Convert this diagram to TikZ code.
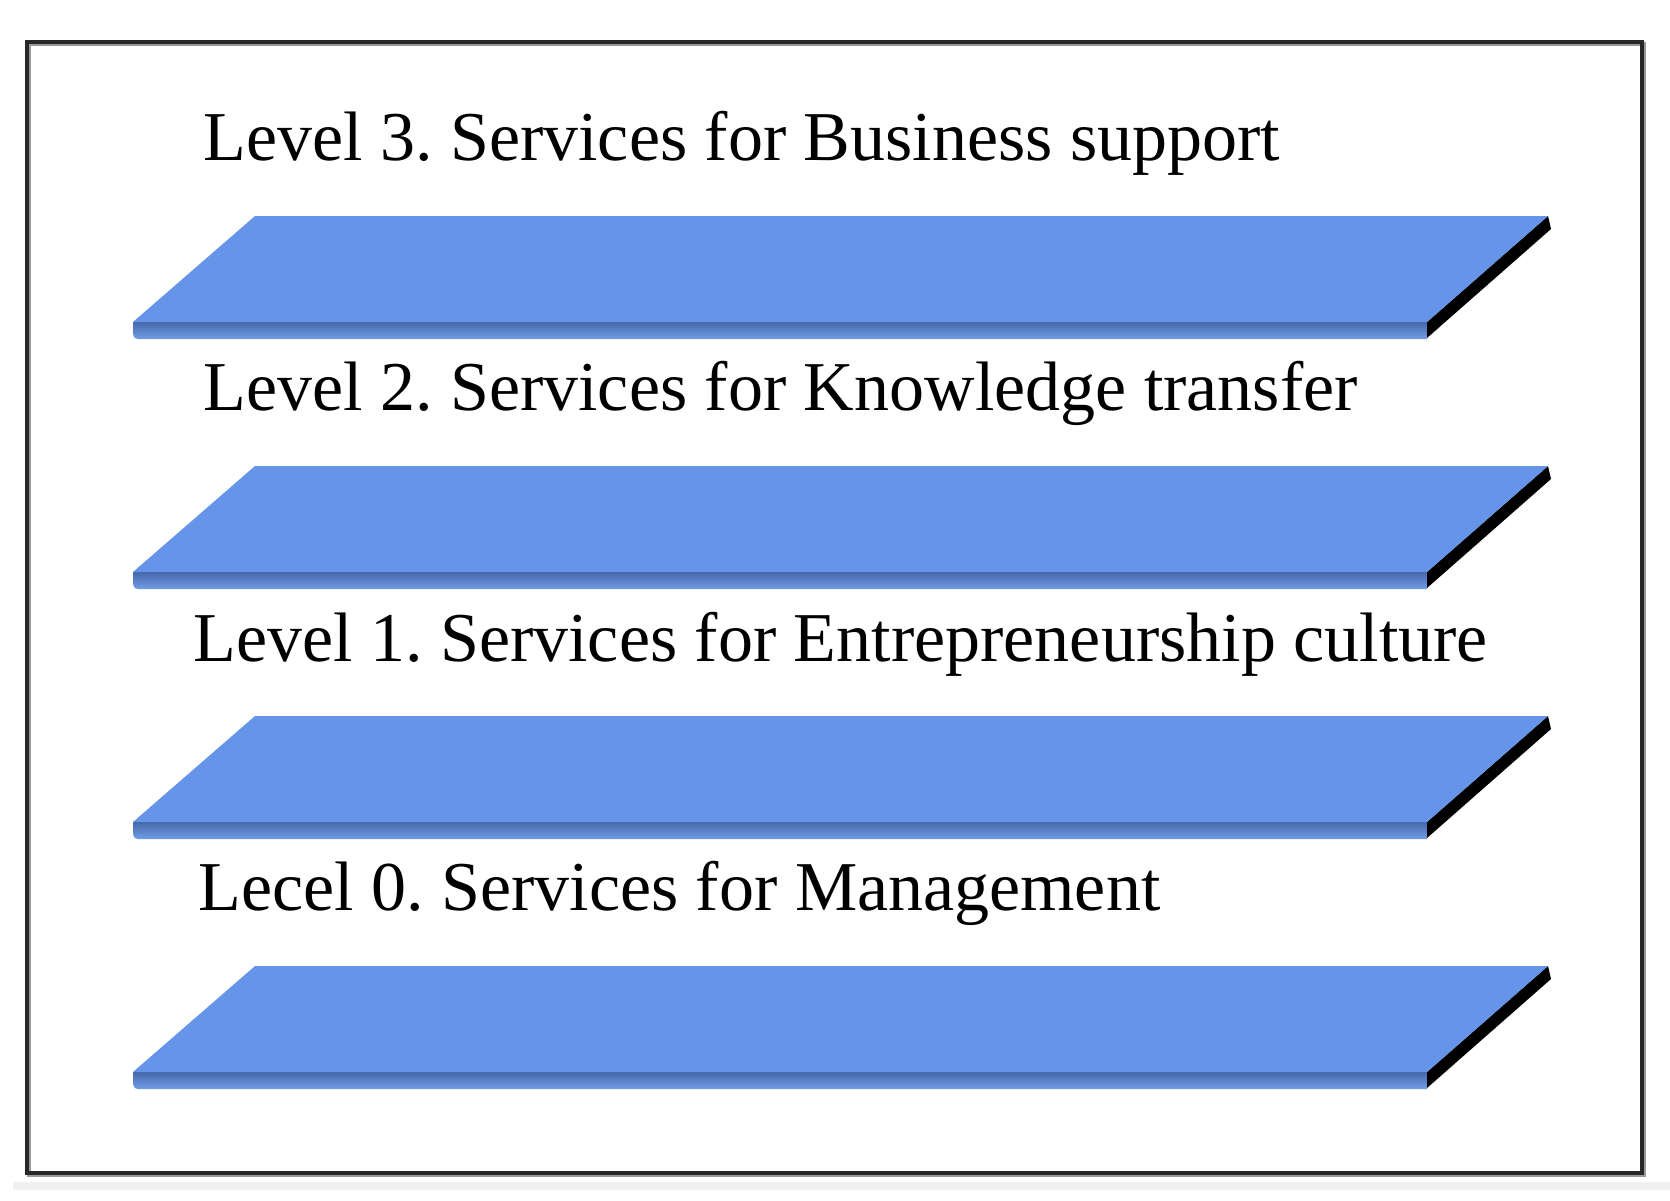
\documentclass[tikz,border=0pt]{standalone}
\usepackage{fontspec}
\setmainfont{Liberation Serif}
\frenchspacing
\definecolor{slabblue}{RGB}{101,148,232}
\definecolor{slabdark}{RGB}{70,104,170}
\definecolor{slablight}{RGB}{112,156,232}
\definecolor{framegray}{RGB}{40,40,40}
\begin{document}
\begin{tikzpicture}[x=0.75pt,y=0.75pt,yscale=-1,xscale=1,
    slabtop/.style={fill=slabblue},
    slabfront/.style={top color=slabdark,bottom color=slablight,draw=none},
    slabside/.style={fill=black},
    leveltext/.style={anchor=base west,inner sep=0pt,font=\fontsize{52.5}{63}\selectfont}]
    %set diagram size
    \useasboundingbox (0,0) rectangle (1670,1200);

    %Shape: page strip
    \fill[black!6] (13,1182) rectangle (1670,1190) ;
    %Shape: Frame
    \draw[black!40,line width=2.5pt] (29,44) rectangle (1644,1175) ;
    \draw[framegray,line width=2.6pt] (27,42) rectangle (1642,1173) ;

    %Shape: Slab 3
    \shade[slabfront] (133,322) -- (1427,322) -- (1427,339) -- (138,339) .. controls (133,339) and (133,334) .. (133,330) -- cycle ;
    \fill[slabside] (1427,322) -- (1548,216) -- (1551,229) -- (1427,338) -- cycle ;
    \fill[slabtop] (255,216) -- (1548,216) -- (1427,322) -- (133,322) -- cycle ;
    %Shape: Slab 2
    \shade[slabfront] (133,572) -- (1427,572) -- (1427,589) -- (138,589) .. controls (133,589) and (133,584) .. (133,580) -- cycle ;
    \fill[slabside] (1427,572) -- (1548,466) -- (1551,479) -- (1427,588) -- cycle ;
    \fill[slabtop] (255,466) -- (1548,466) -- (1427,572) -- (133,572) -- cycle ;
    %Shape: Slab 1
    \shade[slabfront] (133,822) -- (1427,822) -- (1427,839) -- (138,839) .. controls (133,839) and (133,834) .. (133,830) -- cycle ;
    \fill[slabside] (1427,822) -- (1548,716) -- (1551,729) -- (1427,838) -- cycle ;
    \fill[slabtop] (255,716) -- (1548,716) -- (1427,822) -- (133,822) -- cycle ;
    %Shape: Slab 0
    \shade[slabfront] (133,1072) -- (1427,1072) -- (1427,1089) -- (138,1089) .. controls (133,1089) and (133,1084) .. (133,1080) -- cycle ;
    \fill[slabside] (1427,1072) -- (1548,966) -- (1551,979) -- (1427,1088) -- cycle ;
    \fill[slabtop] (255,966) -- (1548,966) -- (1427,1072) -- (133,1072) -- cycle ;

    % Text Node
    \node[leveltext] (level3) at (203,160) {Level 3. Services for Business support};
    % Text Node
    \node[leveltext] (level2) at (203,410) {Level 2. Services for Knowledge transfer};
    % Text Node
    \node[leveltext] (level1) at (193,661) {Level 1. Services for Entrepreneurship culture};
    % Text Node
    \node[leveltext] (level0) at (198,910) {Lecel 0. Services for Management};
\end{tikzpicture}
\end{document}
